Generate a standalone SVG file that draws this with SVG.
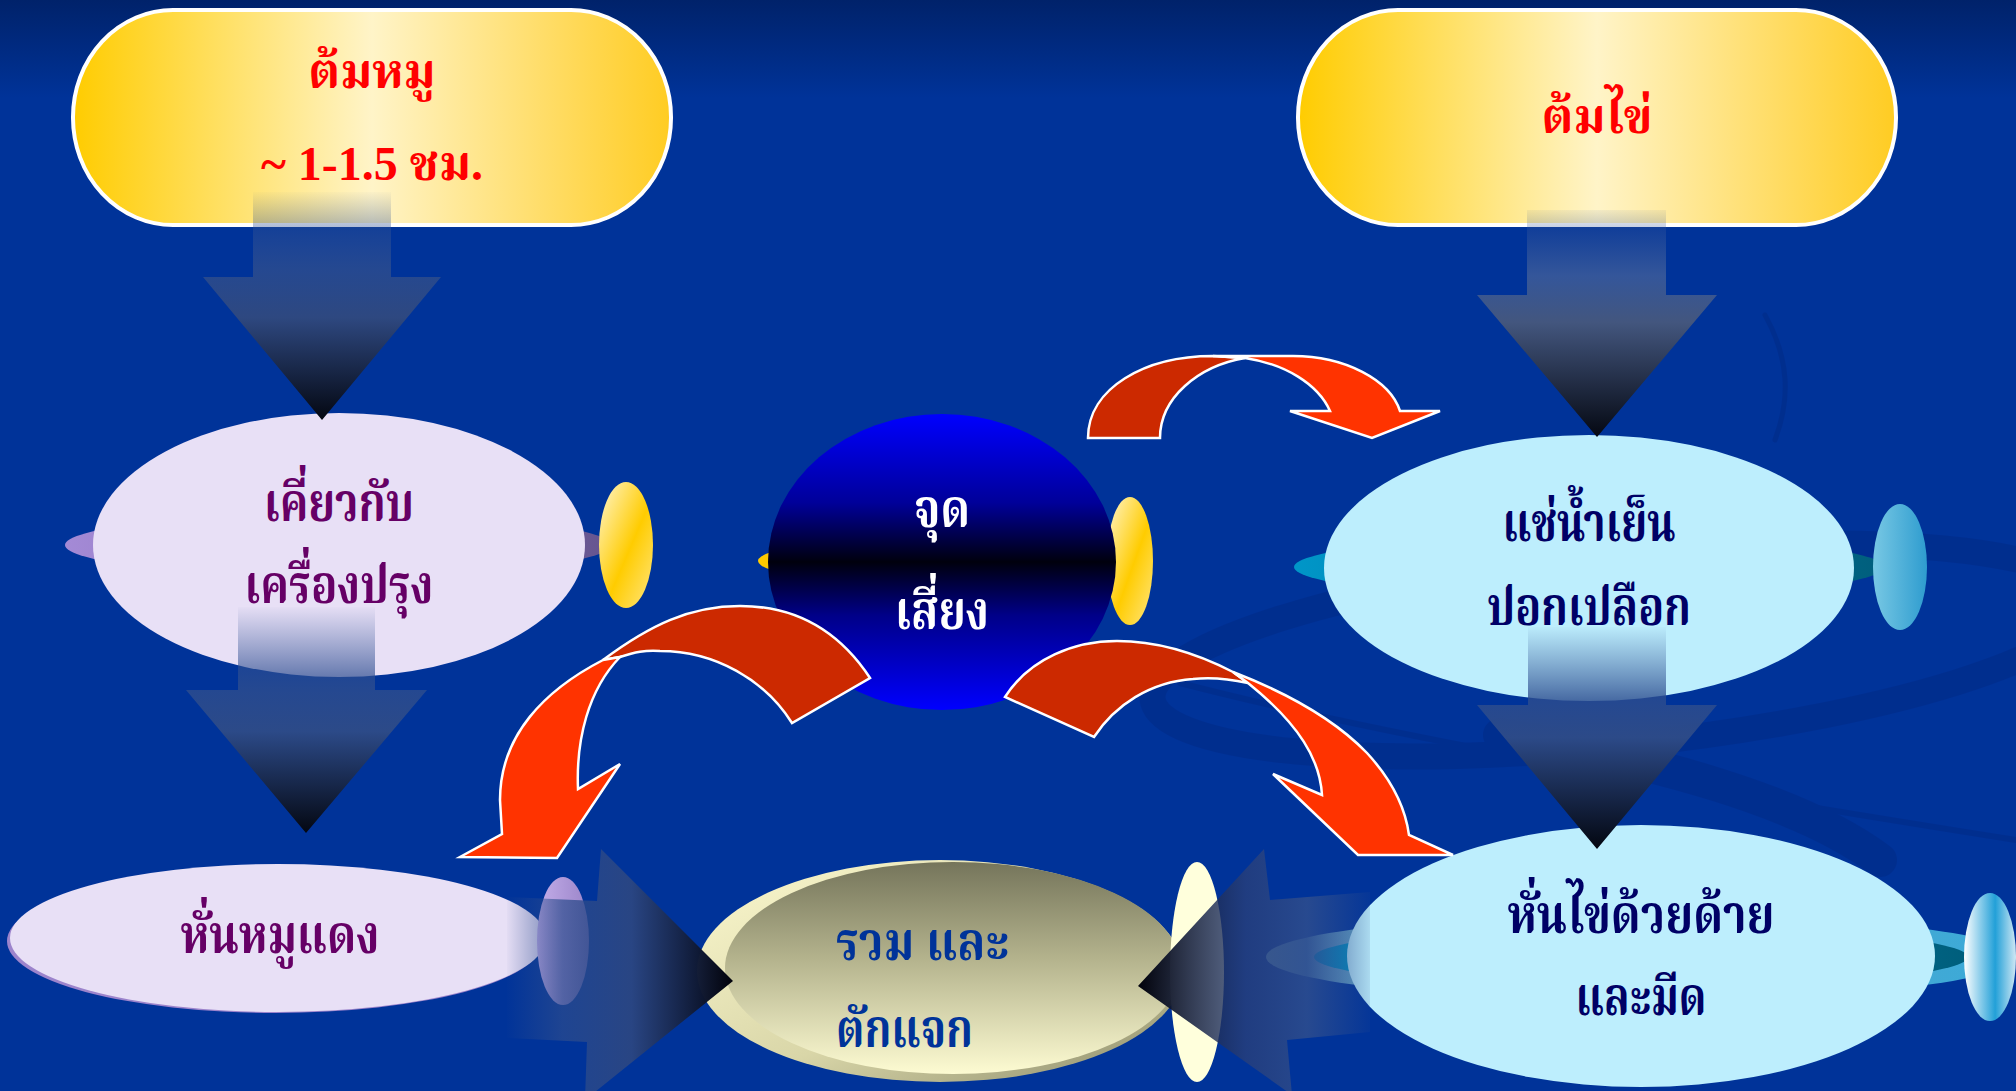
<svg xmlns="http://www.w3.org/2000/svg" width="2016" height="1091" viewBox="0 0 2016 1091">
  <defs>
    <linearGradient id="bg" x1="0" y1="0" x2="0" y2="1">
      <stop offset="0" stop-color="#00226a"/>
      <stop offset="0.09" stop-color="#003399"/>
      <stop offset="1" stop-color="#003399"/>
    </linearGradient>
    <linearGradient id="pillFill" x1="0" y1="0" x2="1" y2="0">
      <stop offset="0" stop-color="#ffcc00"/>
      <stop offset="0.5" stop-color="#fff4c8"/>
      <stop offset="1" stop-color="#ffcc22"/>
    </linearGradient>
    <linearGradient id="sphereFill" x1="0" y1="0" x2="0" y2="1">
      <stop offset="0" stop-color="#0000ff"/>
      <stop offset="0.3" stop-color="#000099"/>
      <stop offset="0.5" stop-color="#00000d"/>
      <stop offset="0.68" stop-color="#000088"/>
      <stop offset="1" stop-color="#0000ff"/>
    </linearGradient>
    <linearGradient id="goldBack" x1="0" y1="0" x2="1" y2="0">
      <stop offset="0" stop-color="#ffcc00"/>
      <stop offset="1" stop-color="#8a6a00"/>
    </linearGradient>
    <linearGradient id="goldCap" x1="0" y1="0" x2="1" y2="1">
      <stop offset="0" stop-color="#fff6d0"/>
      <stop offset="0.55" stop-color="#ffcc00"/>
      <stop offset="1" stop-color="#ffe680"/>
    </linearGradient>
    <linearGradient id="purpleBack" x1="0" y1="0" x2="1" y2="0">
      <stop offset="0" stop-color="#a48ad6"/>
      <stop offset="1" stop-color="#66558f"/>
    </linearGradient>
    <linearGradient id="purpleCap" x1="0" y1="0" x2="1" y2="0">
      <stop offset="0" stop-color="#c4aeea"/>
      <stop offset="1" stop-color="#9a84c8"/>
    </linearGradient>
    <linearGradient id="tealBack" x1="0" y1="0" x2="1" y2="0">
      <stop offset="0" stop-color="#0096c8"/>
      <stop offset="1" stop-color="#005e7c"/>
    </linearGradient>
    <linearGradient id="tealCap" x1="0" y1="0" x2="1" y2="0">
      <stop offset="0" stop-color="#78c8e4"/>
      <stop offset="1" stop-color="#2e9ccf"/>
    </linearGradient>
    <linearGradient id="tealHalo" x1="0" y1="0" x2="1" y2="0">
      <stop offset="0" stop-color="#7ab4cc" stop-opacity="0.85"/>
      <stop offset="1" stop-color="#3aaad8"/>
    </linearGradient>
    <linearGradient id="iceCap" x1="0" y1="0" x2="1" y2="0">
      <stop offset="0" stop-color="#ffffff"/>
      <stop offset="0.6" stop-color="#22a0d8"/>
      <stop offset="1" stop-color="#cfe8f4"/>
    </linearGradient>
    <linearGradient id="creamBack" x1="0" y1="0" x2="1" y2="1">
      <stop offset="0" stop-color="#fcf9cf"/>
      <stop offset="0.55" stop-color="#d9d6a8"/>
      <stop offset="1" stop-color="#8a8a6a"/>
    </linearGradient>
    <linearGradient id="creamFront" x1="0" y1="0" x2="0" y2="1">
      <stop offset="0" stop-color="#75755b"/>
      <stop offset="0.45" stop-color="#b3b28c"/>
      <stop offset="1" stop-color="#fdfbd2"/>
    </linearGradient>
    <!-- vertical flow arrows: fade in from the node above, darken to the tip -->
    <linearGradient id="downA" gradientUnits="userSpaceOnUse" x1="0" y1="190" x2="0" y2="422">
      <stop offset="0" stop-color="#3a5a9a" stop-opacity="0"/>
      <stop offset="0.35" stop-color="#2c4c8e" stop-opacity="0.85"/>
      <stop offset="0.55" stop-color="#2e4880"/>
      <stop offset="1" stop-color="#03060f"/>
    </linearGradient>
    <linearGradient id="downB" gradientUnits="userSpaceOnUse" x1="0" y1="605" x2="0" y2="835">
      <stop offset="0" stop-color="#3a5a9a" stop-opacity="0"/>
      <stop offset="0.38" stop-color="#2c4c8e" stop-opacity="0.85"/>
      <stop offset="0.55" stop-color="#2c4a88"/>
      <stop offset="1" stop-color="#03060f"/>
    </linearGradient>
    <linearGradient id="downC" gradientUnits="userSpaceOnUse" x1="0" y1="205" x2="0" y2="440">
      <stop offset="0" stop-color="#3a5a9a" stop-opacity="0"/>
      <stop offset="0.3" stop-color="#3a5a9a" stop-opacity="0.9"/>
      <stop offset="0.5" stop-color="#43567e"/>
      <stop offset="1" stop-color="#03060f"/>
    </linearGradient>
    <linearGradient id="downD" gradientUnits="userSpaceOnUse" x1="0" y1="625" x2="0" y2="850">
      <stop offset="0" stop-color="#3a5a9a" stop-opacity="0"/>
      <stop offset="0.35" stop-color="#2c4c8e" stop-opacity="0.85"/>
      <stop offset="0.5" stop-color="#2c4a88"/>
      <stop offset="1" stop-color="#03060f"/>
    </linearGradient>
    <!-- horizontal arrows into the serving node -->
    <linearGradient id="rightIn" gradientUnits="userSpaceOnUse" x1="505" y1="0" x2="735" y2="0">
      <stop offset="0" stop-color="#2c4c8e" stop-opacity="0"/>
      <stop offset="0.25" stop-color="#2c4c8e" stop-opacity="0.7"/>
      <stop offset="0.55" stop-color="#2b4682" stop-opacity="0.95"/>
      <stop offset="1" stop-color="#000008"/>
    </linearGradient>
    <linearGradient id="leftIn" gradientUnits="userSpaceOnUse" x1="1380" y1="0" x2="1136" y2="0">
      <stop offset="0" stop-color="#2c4c8e" stop-opacity="0"/>
      <stop offset="0.3" stop-color="#2c4c8e" stop-opacity="0.9"/>
      <stop offset="0.55" stop-color="#2b4078" stop-opacity="0.75"/>
      <stop offset="1" stop-color="#000008"/>
    </linearGradient>
    <style>
      .pill { fill: url(#pillFill); stroke: #ffffff; stroke-width: 4; }
      .th { font-family: "Noto Serif Thai", "Noto Sans Thai", "Liberation Serif", serif; font-weight: bold; text-anchor: middle; }
      .lat { font-family: "Liberation Serif", "Noto Serif Thai", "Noto Sans Thai", serif; }
      .left { text-anchor: start; }
      .label { font-size: 53px; }
      .red { fill: #ff0000; }
      .plum { fill: #660066; }
      .navy { fill: #000066; }
      .blue { fill: #003399; }
      .white { fill: #ffffff; }
      .band-back { fill: #cc2900; stroke: #ffffff; stroke-width: 2.5; stroke-linejoin: miter; }
      .band-front { fill: #ff3300; stroke: #ffffff; stroke-width: 2.5; stroke-linejoin: miter; }
      .swoosh { fill: none; stroke: #002880; stroke-linecap: round; }
    </style>
  </defs>

  <!-- backdrop -->
  <rect width="2016" height="1091" fill="url(#bg)"/>
  <g id="backdrop-swooshes" opacity="0.4">
    <ellipse class="swoosh" cx="1620" cy="650" rx="470" ry="95" transform="rotate(-6 1620 650)" stroke-width="26"/>
    <path class="swoosh" d="M1500,735 C1650,760 1800,800 1880,860" stroke-width="34"/>
    <path class="swoosh" d="M1180,683 C1400,740 1700,790 2016,840" stroke-width="6"/>
    <path class="swoosh" d="M1765,315 C1790,360 1790,400 1775,440" stroke-width="5"/>
  </g>

  <!-- boiling pork -->
  <g id="node-boil-pork">
    <rect class="pill" x="73" y="10" width="598" height="215" rx="100" ry="107"/>
    <text class="th red" x="372" y="88" font-size="48">ต้มหมู</text>
    <text class="th lat red" x="372" y="180" font-size="48">~ 1-1.5 ชม.</text>
  </g>

  <!-- boiling eggs -->
  <g id="node-boil-egg">
    <rect class="pill" x="1298" y="10" width="598" height="215" rx="100" ry="107"/>
    <text class="th red" x="1597" y="133" font-size="48">ต้มไข่</text>
  </g>

  <!-- simmer with seasoning -->
  <g id="node-simmer">
    <ellipse cx="338" cy="545" rx="273" ry="31" fill="url(#purpleBack)"/>
    <ellipse cx="626" cy="545" rx="27" ry="63" fill="url(#goldCap)"/>
    <ellipse cx="339" cy="545" rx="246" ry="132" fill="#e8e0f6"/>
    <text class="th label plum" x="339" y="521" textLength="150" lengthAdjust="spacingAndGlyphs">เคี่ยวกับ</text>
    <text class="th label plum" x="339" y="603" textLength="189" lengthAdjust="spacingAndGlyphs">เครื่องปรุง</text>
  </g>

  <!-- slice red pork -->
  <g id="node-slice-pork">
    <ellipse cx="275" cy="941" rx="268" ry="72" fill="#9c84cc"/>
    <ellipse cx="278" cy="938" rx="268" ry="74" fill="#e8e0f6"/>
    <ellipse cx="563" cy="941" rx="26" ry="64" fill="url(#purpleCap)"/>
    <text class="th label plum" x="280" y="953" textLength="199" lengthAdjust="spacingAndGlyphs">หั่นหมูแดง</text>
  </g>

  <!-- risk point -->
  <g id="node-risk">
    <ellipse cx="942" cy="561" rx="184" ry="24" fill="url(#goldBack)"/>
    <ellipse cx="1130" cy="561" rx="23" ry="64" fill="url(#goldCap)"/>
    <ellipse cx="942" cy="562" rx="174" ry="148" fill="url(#sphereFill)"/>
    <text class="th label white" x="942" y="527" textLength="56" lengthAdjust="spacingAndGlyphs">จุด</text>
    <text class="th label white" x="942" y="629" textLength="94" lengthAdjust="spacingAndGlyphs">เสี่ยง</text>
  </g>

  <!-- cool and peel eggs -->
  <g id="node-peel">
    <ellipse cx="1589" cy="567" rx="295" ry="31" fill="url(#tealBack)"/>
    <ellipse cx="1900" cy="567" rx="27" ry="63" fill="url(#tealCap)"/>
    <ellipse cx="1589" cy="568" rx="265" ry="133" fill="#bdeefd"/>
    <text class="th label navy" x="1589" y="541" textLength="173" lengthAdjust="spacingAndGlyphs">แช่น้ำเย็น</text>
    <text class="th label navy" x="1589" y="625" textLength="204" lengthAdjust="spacingAndGlyphs">ปอกเปลือก</text>
  </g>

  <!-- slice eggs with thread and knife -->
  <g id="node-slice-egg">
    <ellipse cx="1641" cy="957" rx="375" ry="43" fill="url(#tealHalo)"/>
    <ellipse cx="1641" cy="957" rx="327" ry="31" fill="url(#tealBack)"/>
    <ellipse cx="1990" cy="957" rx="26" ry="64" fill="url(#iceCap)"/>
    <ellipse cx="1641" cy="956" rx="294" ry="131" fill="#bdeefd"/>
    <text class="th label navy" x="1641" y="933" textLength="267" lengthAdjust="spacingAndGlyphs">หั่นไข่ด้วยด้าย</text>
    <text class="th label navy" x="1641" y="1015" textLength="131" lengthAdjust="spacingAndGlyphs">และมีด</text>
  </g>

  <!-- combine and serve -->
  <g id="node-serve">
    <ellipse cx="940" cy="971" rx="243" ry="111" fill="url(#creamBack)"/>
    <ellipse cx="953" cy="968" rx="228" ry="106" fill="url(#creamFront)"/>
    <ellipse cx="1197" cy="972" rx="27" ry="110" fill="#ffffdc"/>
    <text class="th label left blue" x="836" y="960" textLength="173" lengthAdjust="spacingAndGlyphs">รวม และ</text>
    <text class="th label left blue" x="836" y="1047" textLength="137" lengthAdjust="spacingAndGlyphs">ตักแจก</text>
  </g>

  <g id="connectors">
    <!-- process flow arrows -->
    <polygon points="253,192 391,192 391,277 441,277 322,420 203,277 253,277" fill="url(#downA)"/>
    <polygon points="238,607 375,607 375,690 427,690 306,833 186,690 238,690" fill="url(#downB)"/>
    <polygon points="1527,210 1666,210 1666,295 1717,295 1597,437 1477,295 1527,295" fill="url(#downC)"/>
    <polygon points="1528,627 1666,627 1666,705 1717,705 1597,849 1477,705 1528,705" fill="url(#downD)"/>
    <polygon points="507,897 597,901 601,849 733,981 585,1100 587,1042 507,1038" fill="url(#rightIn)"/>
    <polygon points="1370,892 1270,900 1264,849 1138,986 1292,1095 1287,1040 1370,1032" fill="url(#leftIn)"/>

    <!-- risk arrows out of the risk point -->
    <g id="risk-to-peel">
      <path class="band-back" d="M1088,438 C1088,388 1145,356 1213,356 L1245,358 C1198,366 1160,398 1160,438 Z"/>
      <path class="band-front" d="M1213,356 L1293,356 C1345,356 1390,380 1400,411 L1440,411 L1372,438 L1290,411 L1330,411 C1318,384 1285,364 1245,358 Z"/>
    </g>
    <g id="risk-to-serve">
      <path class="band-back" d="M870,678 C835,625 790,606 740,606 C690,606 650,625 603,660 L620,657 C635,652 645,650 660,651 C715,651 765,680 792,723 Z"/>
      <path class="band-front" d="M603,660 C545,690 500,735 500,800 L502,834 L460,857 L557,858 L620,764 L578,789 C576,740 588,690 620,657 Z"/>
    </g>
    <g id="risk-to-slice-egg">
      <path class="band-back" d="M1005,697 C1030,658 1075,641 1117,641 C1160,641 1200,655 1233,672 L1248,683 C1230,679 1210,677 1193,679 C1150,682 1115,705 1094,737 Z"/>
      <path class="band-front" d="M1233,672 C1300,698 1340,725 1367,753 C1390,778 1405,805 1409,835 L1453,855 L1358,855 L1273,774 L1322,795 C1320,760 1300,725 1248,683 Z"/>
    </g>
  </g>
</svg>
